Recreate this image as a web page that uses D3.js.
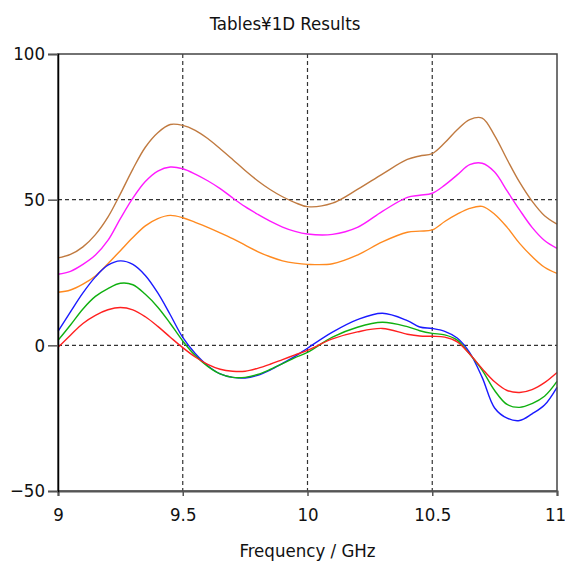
<!DOCTYPE html>
<html>
<head>
<meta charset="utf-8">
<script src="https://cdn.jsdelivr.net/npm/d3@7"></script>
<style>
  body { margin: 0; background: #fff; }
  svg text { font-family: "DejaVu Sans Condensed", "Liberation Sans", sans-serif; fill: #111; }
</style>
</head>
<body>
<div id="chart"></div>
<script>
// frequency points (GHz) shared by all curves
const freq = [9.0, 9.05, 9.1, 9.15, 9.2, 9.25, 9.3, 9.35, 9.4, 9.45, 9.5, 9.55, 9.6, 9.65, 9.7, 9.75,
  9.8, 9.85, 9.9, 9.95, 10.0, 10.1, 10.2, 10.3, 10.4, 10.45, 10.5, 10.55, 10.6, 10.65, 10.7,
  10.75, 10.8, 10.85, 10.9, 10.95, 11.0];

const brown = [30, 31.2, 33.8, 38, 44, 52, 60.5, 68, 73, 75.8, 75.5, 73.8, 71, 67.5, 63.8, 60,
  56.5, 53.5, 51, 49, 47.6, 48.8, 53.5, 58.8, 63.8, 65, 65.8, 69.5, 74, 77.5, 78,
  72, 63.8, 56, 49.5, 44.5, 41.6];
const magenta = [24.4, 25.4, 27.8, 31, 36, 43.5, 50.5, 56.2, 59.8, 61.2, 60.6, 58.8, 56.5, 53.8, 50.6, 47.6,
  45, 42.6, 40.6, 39.1, 38.2, 38.1, 40.5, 46, 50.8, 51.5, 52.2, 55, 58.5, 62, 62.5,
  59.5, 53, 46.5, 40.5, 36, 33.3];
const orange = [18.2, 19, 21, 23.8, 28, 32.5, 37, 41, 43.5, 44.6, 43.8, 42.2, 40.5, 38.6, 36.6, 34.4,
  32.2, 30.4, 29, 28.2, 27.8, 28, 31, 35.5, 38.8, 39.2, 39.6, 42.5, 45, 47, 47.7,
  45, 40.5, 35, 30.5, 26.8, 24.7];
const blue = [4.8, 11.5, 18, 23.5, 27.5, 29, 27.8, 24, 18, 10.5, 2.7, -2.8, -7, -9.8, -11, -11.2,
  -10.3, -8.5, -6.2, -3.8, -1, 4.5, 8.8, 11, 8.5, 6.3, 5.8, 4.8, 2.5, -2.5, -11,
  -21.5, -25, -25.8, -23.5, -20.5, -14.4];
const green = [1.7, 7, 12.5, 16.8, 19.5, 21.3, 20.8, 17.5, 13.1, 7.5, 1.5, -3.5, -7.2, -9.8, -11, -11,
  -10, -8.3, -6.3, -4.2, -2.4, 2.8, 6.2, 7.9, 6.4, 5, 4.1, 3.6, 1.8, -3, -8.5,
  -15.5, -20.3, -21.3, -20, -17.5, -12.4];
const red = [-0.7, 3.5, 7.5, 10.3, 12.2, 13, 12.2, 9.8, 6.5, 2.8, -0.8, -4, -6.5, -8.2, -8.9, -8.9,
  -7.9, -6.5, -4.9, -3.3, -1.7, 2.2, 4.6, 5.8, 3.8, 3.2, 3.1, 2.8, 1.2, -3, -8,
  -12.5, -15.5, -16.2, -15.2, -12.8, -9.3];

const xTicks = [9, 9.5, 10, 10.5, 11];
const yTicks = [-50, 0, 50, 100];

const series = [
  { name: "brown", values: brown, color: "#c07a40" },
  { name: "magenta", values: magenta, color: "#ff1aff" },
  { name: "orange", values: orange, color: "#ff8a20" },
  { name: "blue", values: blue, color: "#1a1aff" },
  { name: "green", values: green, color: "#10b010" },
  { name: "red", values: red, color: "#ff2020" }
];

const width = 565, height = 561;
const margin = { top: 54, right: 8, bottom: 70, left: 58 };
const innerW = width - margin.left - margin.right;
const innerH = height - margin.top - margin.bottom;

const svg = d3.select("#chart").append("svg")
  .attr("width", width)
  .attr("height", height);

const g = svg.append("g")
  .attr("transform", `translate(${margin.left},${margin.top})`);

const x = d3.scaleLinear().domain([9, 11]).range([0, innerW]);
const y = d3.scaleLinear().domain([-50, 100]).range([innerH, 0]);

// dashed grid lines
g.selectAll(".vgrid")
  .data(xTicks.slice(1, -1))
  .enter().append("line")
  .attr("x1", d => x(d)).attr("x2", d => x(d))
  .attr("y1", 0).attr("y2", innerH)
  .attr("stroke", "#333").attr("stroke-width", 1.2)
  .attr("stroke-dasharray", "4,3");

g.selectAll(".hgrid")
  .data(yTicks.slice(1, -1))
  .enter().append("line")
  .attr("x1", 0).attr("x2", innerW)
  .attr("y1", d => y(d)).attr("y2", d => y(d))
  .attr("stroke", "#333").attr("stroke-width", 1.2)
  .attr("stroke-dasharray", "4,3");

// curves
const line = d3.line()
  .x((d, i) => x(freq[i]))
  .y(d => y(d))
  .curve(d3.curveCatmullRom.alpha(0.5));

g.selectAll(".curve")
  .data(series)
  .enter().append("path")
  .attr("fill", "none")
  .attr("stroke", d => d.color)
  .attr("stroke-width", 1.4)
  .attr("d", d => line(d.values));

// frame
g.append("rect")
  .attr("x", 0).attr("y", 0)
  .attr("width", innerW).attr("height", innerH)
  .attr("fill", "none")
  .attr("stroke", "#444").attr("stroke-width", 1.5);

// axes
const xAxis = g.append("g")
  .attr("transform", `translate(0,${innerH})`)
  .call(d3.axisBottom(x).tickValues(xTicks).tickFormat(d3.format("")).tickSize(5).tickPadding(12));
xAxis.select(".domain").attr("stroke", "#555").attr("stroke-width", 2);
xAxis.selectAll(".tick line").attr("stroke", "#555").attr("stroke-width", 1.5);
xAxis.selectAll("text").attr("font-size", 18.5).attr("fill", "#111");
// keep the last label inside the window
xAxis.selectAll("text").filter(d => d === 11).attr("dx", -2);

const yAxis = g.append("g")
  .call(d3.axisLeft(y).tickValues(yTicks).tickSize(10).tickPadding(3));
yAxis.select(".domain").attr("stroke", "#000").attr("stroke-width", 1.5);
yAxis.selectAll(".tick line").attr("stroke", "#555").attr("stroke-width", 1.5);
yAxis.selectAll("text").attr("font-size", 18.5).attr("fill", "#111");

// title and axis label
svg.append("text")
  .attr("x", 285).attr("y", 30)
  .attr("text-anchor", "middle")
  .attr("font-size", 18.5)
  .text("Tables¥1D Results");

svg.append("text")
  .attr("x", margin.left + innerW / 2).attr("y", 557)
  .attr("text-anchor", "middle")
  .attr("font-size", 18.5)
  .text("Frequency / GHz");
</script>
</body>
</html>
